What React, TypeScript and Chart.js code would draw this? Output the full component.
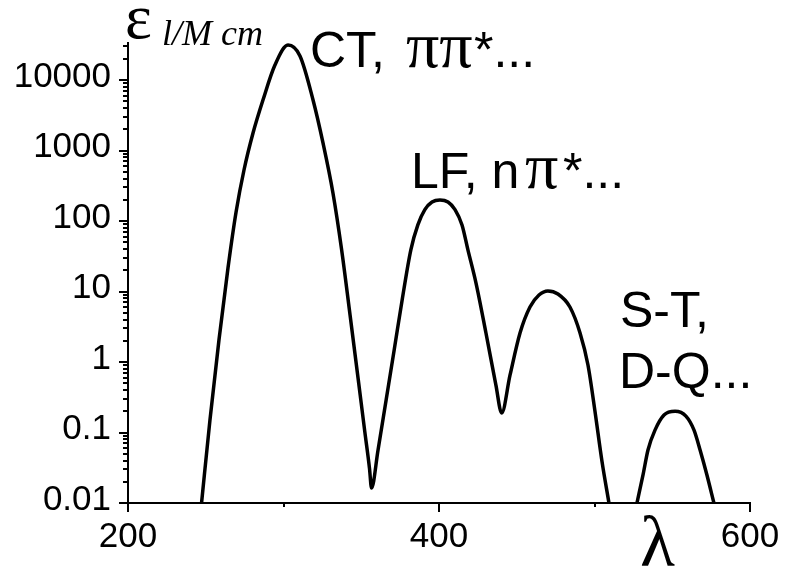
import { useEffect, useRef } from "react";
import { Chart, registerables } from "chart.js";

Chart.register(...registerables);

// Main band system: CT / ππ* (≈300 nm), LF / nπ* (≈400 nm), third band (≈470 nm)
const band1Lambda = [247.3, 252.7, 258.5, 264.3, 269.5, 274.6, 280.4, 286.8, 294.5, 302.9, 310.6, 319.0, 325.4, 331.8, 337.4, 342.8, 348.1, 352.3, 355.3, 356.6, 360.8, 366.0, 371.2, 376.3, 381.9, 386.4, 390.9, 395.5, 400.6, 405.8, 410.3, 414.8, 418.6, 423.8, 430.2, 436.6, 440.3, 445.7, 452.1, 458.5, 464.3, 470.0, 476.5, 484.2, 490.7, 495.8, 500.3, 504.8, 509.3];
const band1Eps = [0.01, 0.15, 2.05, 21.5, 134, 529, 1770, 5200, 16300, 31300, 21900, 5200, 1280, 250, 38.8, 4.64, 0.556, 0.102, 0.031, 0.0163, 0.0565, 0.29, 1.49, 7.6, 39, 88, 145, 186, 199, 186, 145, 88, 39, 13.2, 2.58, 0.47, 0.189, 0.655, 2.58, 6.03, 8.92, 10.2, 9.22, 6.03, 2.58, 0.906, 0.2, 0.039, 0.01];

// Spin-forbidden band (S-T, D-Q ...)
const band2Lambda = [527.3, 531.2, 534.4, 538.9, 544.7, 551.8, 558.8, 564.0, 567.9, 572.3, 576.8];
const band2Eps = [0.01, 0.025, 0.0565, 0.108, 0.177, 0.2, 0.171, 0.108, 0.0565, 0.025, 0.01];

const yMajorValues = [0.01, 0.1, 1, 10, 100, 1000, 10000];
const yTickLabels = ["0.01", "0.1", "1", "10", "100", "1000", "10000"];
const yMinorMultipliers = [2, 3, 4, 5, 6, 7, 8, 9];
const yMin = 0.01;
const yMax = 33500;

const xTickValues = [200, 300, 400, 500, 600];
const xTickLabels = ["200", "", "400", "", "600"];
const xMin = 200;
const xMax = 600;

const SANS = '"Liberation Sans", Arial, sans-serif';
const SERIF = '"Liberation Serif", "Times New Roman", serif';

function toPoints(xs: number[], ys: number[]) {
  return xs.map((x, i) => ({ x, y: ys[i] }));
}

const axisTicksPlugin = {
  id: "axisTicks",
  afterDraw(chart: any) {
    const { ctx, chartArea } = chart;
    const xs = chart.scales.x;
    const ys = chart.scales.y;
    ctx.save();
    ctx.strokeStyle = "#000";
    ctx.lineWidth = 2;
    ys.ticks.forEach((t: any) => {
      const py = Math.round(ys.getPixelForValue(t.value));
      const len = yMajorValues.includes(t.value) ? 9 : 5;
      ctx.beginPath();
      ctx.moveTo(chartArea.left - len, py);
      ctx.lineTo(chartArea.left, py);
      ctx.stroke();
    });
    xs.ticks.forEach((t: any) => {
      const px = Math.round(xs.getPixelForValue(t.value));
      const idx = xTickValues.indexOf(t.value);
      const len = idx >= 0 && xTickLabels[idx] !== "" ? 9 : 4;
      ctx.beginPath();
      ctx.moveTo(px, chartArea.bottom);
      ctx.lineTo(px, chartArea.bottom + len);
      ctx.stroke();
    });
    ctx.restore();
  },
};

function drawText(ctx: CanvasRenderingContext2D, text: string, font: string, x: number, baseline: number) {
  ctx.font = font;
  ctx.fillText(text, x, baseline);
}

const annotationPlugin = {
  id: "annotations",
  afterDraw(chart: any) {
    const ctx: CanvasRenderingContext2D = chart.ctx;
    ctx.save();
    ctx.fillStyle = "#000";
    ctx.textBaseline = "alphabetic";
    ctx.textAlign = "left";
    const sans = `50px ${SANS}`;
    const pi = `66px ${SERIF}`;
    // y-axis title
    drawText(ctx, "ε", `64px ${SERIF}`, 125, 38);
    drawText(ctx, "l/M cm", `italic 36px ${SERIF}`, 162, 45);
    // band labels
    drawText(ctx, "CT,", sans, 310, 67);
    drawText(ctx, "ππ", pi, 406, 67);
    drawText(ctx, "*...", sans, 474, 67);
    drawText(ctx, "LF, n", sans, 411, 188);
    drawText(ctx, "π", pi, 525, 188);
    drawText(ctx, "*...", sans, 563, 188);
    drawText(ctx, "S-T,", sans, 620, 327);
    drawText(ctx, "D-Q...", sans, 619, 388);
    // x-axis title
    drawText(ctx, "λ", `72px ${SERIF}`, 640, 566);
    ctx.restore();
  },
};

export default function App() {
  const canvasRef = useRef<HTMLCanvasElement | null>(null);

  useEffect(() => {
    if (!canvasRef.current) return;
    const lineStyle = {
      borderColor: "#000",
      borderWidth: 3.5,
      pointRadius: 0,
      fill: false,
      cubicInterpolationMode: "monotone" as const,
    };
    const chart = new Chart(canvasRef.current, {
      type: "line",
      data: {
        datasets: [
          { label: "band1", data: toPoints(band1Lambda, band1Eps), ...lineStyle },
          { label: "band2", data: toPoints(band2Lambda, band2Eps), ...lineStyle },
        ],
      },
      options: {
        animation: false,
        responsive: false,
        events: [],
        layout: { padding: { top: 43, right: 40, left: 0, bottom: 0 } },
        plugins: {
          legend: { display: false },
          tooltip: { enabled: false },
          title: { display: false },
        },
        scales: {
          x: {
            type: "linear",
            min: xMin,
            max: xMax,
            afterBuildTicks: (s: any) => {
              s.ticks = xTickValues.map((v) => ({ value: v }));
            },
            afterFit: (s: any) => {
              s.height = 65;
            },
            grid: { display: false },
            border: { display: true, color: "#000", width: 2 },
            ticks: {
              autoSkip: false,
              maxRotation: 0,
              padding: 5,
              color: "#000",
              font: { family: SANS, size: 35 },
              callback: (v: any) => {
                const i = xTickValues.indexOf(Number(v));
                return i >= 0 ? xTickLabels[i] : "";
              },
            },
          },
          y: {
            type: "logarithmic",
            min: yMin,
            max: yMax,
            afterBuildTicks: (s: any) => {
              const t: { value: number }[] = [];
              yMajorValues.forEach((m) => {
                t.push({ value: m });
                yMinorMultipliers.forEach((k) => {
                  const v = m * k;
                  if (v <= yMax) t.push({ value: v });
                });
              });
              s.ticks = t;
            },
            afterFit: (s: any) => {
              s.width = 128;
            },
            grid: { display: false },
            border: { display: true, color: "#000", width: 2 },
            ticks: {
              autoSkip: false,
              padding: 9,
              labelOffset: -3,
              color: "#000",
              font: { family: SANS, size: 35 },
              callback: (v: any) => {
                const i = yMajorValues.indexOf(Number(v));
                return i >= 0 ? yTickLabels[i] : "";
              },
            },
          },
        },
      },
      plugins: [axisTicksPlugin, annotationPlugin],
    });
    return () => chart.destroy();
  }, []);

  return (
    <div style={{ position: "fixed", left: 0, top: 0, width: 790, height: 568, background: "#fff" }}>
      <canvas ref={canvasRef} width={790} height={568} style={{ display: "block" }} />
    </div>
  );
}
